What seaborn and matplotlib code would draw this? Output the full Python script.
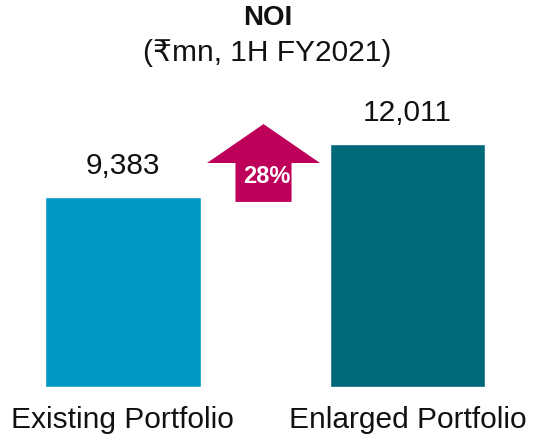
import matplotlib
matplotlib.use("Agg")
import matplotlib.pyplot as plt
import seaborn as sns
import pandas as pd
from matplotlib.patches import Polygon

categories = ["Existing Portfolio", "Enlarged Portfolio"]
values = [9383, 12011]
colors = ["#0099C6", "#006878"]
title = "NOI"
subtitle = "(₹mn, 1H FY2021)"

sns.set_theme(style="white")
plt.rcParams['font.family'] = ['Liberation Sans', 'DejaVu Sans']

df = pd.DataFrame({"cat": categories, "val": values})

fig = plt.figure(figsize=(5.35, 4.4), dpi=100)
ax = fig.add_axes([0, 53/440, 1, 387/440])
sns.barplot(data=df, x="cat", y="val", hue="cat", palette=colors,
            width=0.548, saturation=1, legend=False, ax=ax)
ax.set_xlim(-0.432, 1.448)
ax.set_ylim(0, 19111)
for s in ax.spines.values():
    s.set_visible(False)
ax.set_yticks([])
ax.set_xlabel("")
ax.set_ylabel("")
ax.tick_params(axis="x", length=0, labelsize=21.5, pad=14, colors="#111111")

for i, v in enumerate(values):
    ax.annotate(f"{v:,}", (i, v), xytext=(0, 12), textcoords="offset points",
                ha="center", va="bottom", fontsize=21.5, color="#111111")

# growth arrow
growth = (values[1] / values[0] - 1) * 100
xc = 0.494
hw, sw = 0.1985, 0.0985
yb = values[0] * 0.974
ys = values[1] * 0.921
yt = values[1] * 1.081
arrow = Polygon([(xc - sw, yb), (xc + sw, yb), (xc + sw, ys), (xc + hw, ys),
                 (xc, yt), (xc - hw, ys), (xc - sw, ys)],
                closed=True, facecolor="#BE005A", edgecolor="none")
ax.add_patch(arrow)
ax.text(xc + 0.013, (yb + ys) / 2 + 300, f"{growth:.0f}%", ha="center", va="center",
        color="white", fontsize=17, fontweight="bold")

fig.text(0.5, 1 - 18/440, title, ha="center", va="center", fontsize=20,
         fontweight="bold", color="#111111")
fig.text(0.5, 1 - 53/440, subtitle, ha="center", va="center", fontsize=21.5,
         color="#111111")

fig.savefig("out.png", dpi=100)
